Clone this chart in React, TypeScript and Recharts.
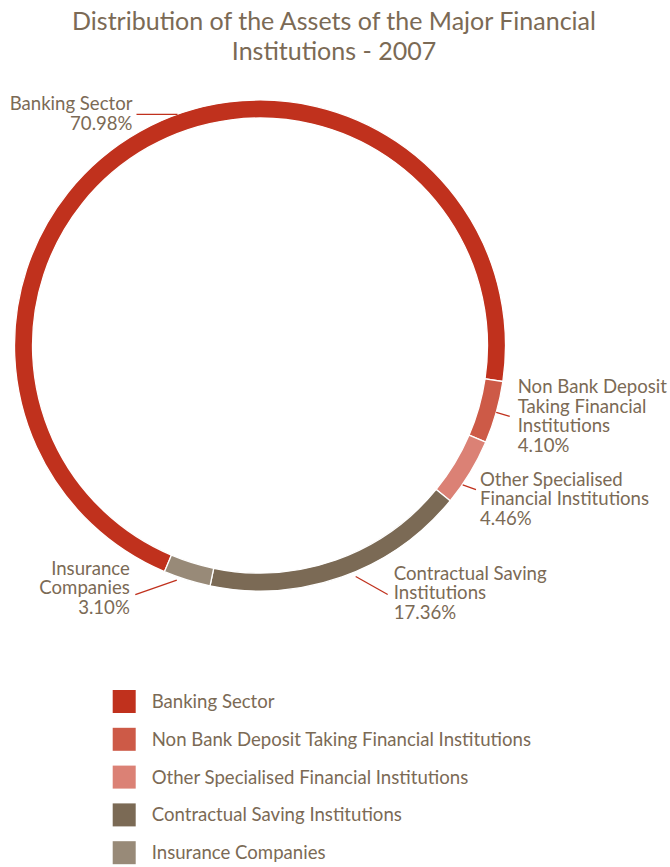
import { Cell, Legend, Pie, PieChart } from 'recharts'

const categories = [
  'Banking Sector',
  'Non Bank Deposit Taking Financial Institutions',
  'Other Specialised Financial Institutions',
  'Contractual Saving Institutions',
  'Insurance Companies',
]

const shares = [70.98, 4.1, 4.46, 17.36, 3.1]

// how each category name is broken over lines next to the ring
const labelText = [
  ['Banking Sector'],
  ['Non Bank Deposit', 'Taking Financial', 'Institutions'],
  ['Other Specialised', 'Financial Institutions'],
  ['Contractual Saving', 'Institutions'],
  ['Insurance', 'Companies'],
]

const colors = ['#c0311d', '#cd5a47', '#db8175', '#7b6a55', '#988a78']

const TEXT = '#7b6a55'
const LINE = '#c0311d'
const FONT = 'Lato, "Open Sans", sans-serif'
const LINE_H = 19.5
const LABEL_SIZE = 18.6

const data = categories.map((name, i) => ({ name, value: shares[i] }))

// leader line + text placement per slice, relative to the slice's mid angle
const labelLayout = [
  { shift: -9.7, r0: 0, dx: -41, dy: 0, anchor: 'end', tx: -4, ty: -4 },
  { shift: 0, r0: 0, dx: 13.5, dy: 3.9, anchor: 'start', tx: 8, ty: -23 },
  { shift: -3.3, r0: 0.5, dx: 13.3, dy: 4.7, anchor: 'start', tx: 4, ty: -3.7 },
  { shift: 3, r0: 4.5, dx: 32, dy: 18, anchor: 'start', tx: 6, ty: -14.5 },
  { shift: -2.2, r0: 3.5, dx: -41.5, dy: 14.4, anchor: 'end', tx: -5.5, ty: -20 },
]

const RAD = Math.PI / 180

function renderLabel(props: any) {
  const { cx, cy, midAngle, outerRadius, index } = props
  const l = labelLayout[index]
  const a = (midAngle + l.shift) * RAD
  const r = outerRadius + l.r0
  const x0 = cx + r * Math.cos(a)
  const y0 = cy - r * Math.sin(a)
  const x1 = x0 + l.dx
  const y1 = y0 + l.dy
  const lines = [...labelText[index], `${shares[index].toFixed(2)}%`]
  return (
    <g key={`label-${index}`}>
      <line x1={x0} y1={y0} x2={x1} y2={y1} stroke={LINE} strokeWidth={1.3} />
      <text
        x={x1 + l.tx}
        y={y1 + l.ty}
        textAnchor={l.anchor as any}
        fill={TEXT}
        fontFamily={FONT}
        fontSize={LABEL_SIZE}
      >
        {lines.map((t, j) => (
          <tspan key={j} x={x1 + l.tx} dy={j === 0 ? 0 : LINE_H}>
            {t}
          </tspan>
        ))}
      </text>
    </g>
  )
}

function renderLegend(props: any) {
  const items = [...(props.payload ?? [])].sort(
    (a: any, b: any) => categories.indexOf(a.value) - categories.indexOf(b.value),
  )
  return (
    <svg width={460} height={187}>
      {items.map((item: any, i: number) => (
        <g key={item.value} transform={`translate(0, ${i * 37.8})`}>
          <rect x={12.7} y={10} width={23} height={23} fill={item.color} />
          <text x={51.7} y={28} fill={TEXT} fontFamily={FONT} fontSize={LABEL_SIZE}>
            {item.value}
          </text>
        </g>
      ))}
    </svg>
  )
}

export default function App() {
  return (
    <div
      style={{
        position: 'absolute',
        left: 0,
        top: 0,
        width: 670,
        height: 867,
        background: '#fff',
        fontFamily: FONT,
      }}
    >
      <div
        style={{
          position: 'absolute',
          left: 0,
          top: 4.7,
          width: 668,
          textAlign: 'center',
          color: TEXT,
          fontSize: 25,
          lineHeight: '30.5px',
        }}
      >
        Distribution of the Assets of the Major Financial
        <br />
        Institutions - 2007
      </div>
      <PieChart width={670} height={867} margin={{ top: 0, right: 0, bottom: 0, left: 0 }}>
        <Pie
          data={data}
          dataKey="value"
          nameKey="name"
          cx={260}
          cy={345.5}
          innerRadius={227.5}
          outerRadius={245.5}
          startAngle={247.1}
          endAngle={-112.9}
          stroke="#fff"
          strokeWidth={1.3}
          label={renderLabel}
          labelLine={false}
          isAnimationActive={false}
        >
          {data.map((d, i) => (
            <Cell key={d.name} fill={colors[i]} />
          ))}
        </Pie>
        <Legend
          content={renderLegend}
          wrapperStyle={{ position: 'absolute', left: 100, top: 680, width: 460, height: 187 }}
        />
      </PieChart>
    </div>
  )
}
